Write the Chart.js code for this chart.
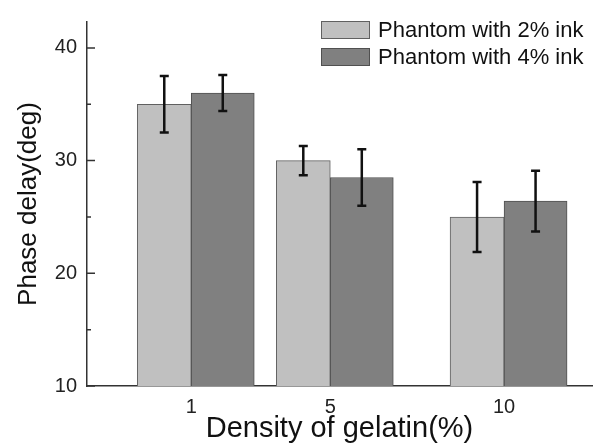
<!DOCTYPE html>
<html>
<head>
<meta charset="utf-8">
<script src="https://cdn.jsdelivr.net/npm/chart.js@4"></script>
<style>
  html, body { margin: 0; padding: 0; background: #fff; }
  #wrap { width: 597px; height: 444px; position: relative; }
</style>
</head>
<body>
<div id="wrap"><canvas id="chart"></canvas></div>
<script>
// 젤라틴 농도별 위상 지연
var densities = [1, 5, 10];
var ink2 = [35, 30, 25];
var ink2Err = [2.5, 1.3, 3.1];
var ink4 = [36, 28.5, 26.4];
var ink4Err = [1.6, 2.5, 2.7];
var seriesLabels = ['Phantom with 2% ink', 'Phantom with 4% ink'];
var yTicks = [10, 20, 30, 40];
var yMinorTicks = [15, 25, 35];

var FONT = 'Liberation Sans, Arial, Helvetica, sans-serif';

function toPoints(values) {
  return densities.map(function(d, i) { return { x: d, y: values[i] }; });
}

// 오차 막대
var errorBars = {
  id: 'errorBars',
  afterDatasetsDraw: function(chart) {
    var ctx = chart.ctx, y = chart.scales.y;
    ctx.save();
    ctx.strokeStyle = '#111';
    ctx.lineWidth = 2.5;
    chart.data.datasets.forEach(function(ds, di) {
      var meta = chart.getDatasetMeta(di);
      meta.data.forEach(function(bar, i) {
        var v = ds.data[i].y, e = ds.errors[i];
        var top = y.getPixelForValue(v + e), bot = y.getPixelForValue(v - e);
        ctx.beginPath();
        ctx.moveTo(bar.x, top); ctx.lineTo(bar.x, bot);
        ctx.moveTo(bar.x - 4.5, top); ctx.lineTo(bar.x + 4.5, top);
        ctx.moveTo(bar.x - 4.5, bot); ctx.lineTo(bar.x + 4.5, bot);
        ctx.stroke();
      });
    });
    ctx.restore();
  }
};

// 안쪽으로 향한 y축 눈금
var innerTicks = {
  id: 'innerTicks',
  afterDraw: function(chart) {
    var ctx = chart.ctx, y = chart.scales.y, left = chart.chartArea.left;
    ctx.save();
    ctx.strokeStyle = '#333';
    ctx.lineWidth = 1.5;
    ctx.beginPath();
    yTicks.forEach(function(t) {
      var p = y.getPixelForValue(t);
      ctx.moveTo(left, p); ctx.lineTo(left + 8, p);
    });
    yMinorTicks.forEach(function(t) {
      var p = y.getPixelForValue(t);
      ctx.moveTo(left, p); ctx.lineTo(left + 4, p);
    });
    ctx.stroke();
    ctx.restore();
  }
};

// 범례 (오른쪽 위)
var boxLegend = {
  id: 'boxLegend',
  afterDraw: function(chart) {
    var ctx = chart.ctx;
    ctx.save();
    ctx.font = '22px ' + FONT;
    ctx.textBaseline = 'middle';
    chart.data.datasets.forEach(function(ds, i) {
      var top = 21 + i * 27;
      ctx.fillStyle = ds.backgroundColor;
      ctx.fillRect(321, top, 49, 18);
      ctx.strokeStyle = ds.borderColor;
      ctx.lineWidth = 1;
      ctx.strokeRect(321.5, top + 0.5, 48, 17);
      ctx.fillStyle = '#111';
      ctx.fillText(ds.label, 378, top + 10);
    });
    ctx.restore();
  }
};

new Chart(document.getElementById('chart'), {
  type: 'bar',
  data: {
    datasets: [{
      label: seriesLabels[0],
      data: toPoints(ink2),
      errors: ink2Err,
      backgroundColor: '#c0c0c0',
      borderColor: '#606060',
      borderWidth: 1,
      barThickness: 54
    }, {
      label: seriesLabels[1],
      data: toPoints(ink4),
      errors: ink4Err,
      backgroundColor: '#808080',
      borderColor: '#505050',
      borderWidth: 1,
      barThickness: 63
    }]
  },
  options: {
    responsive: true,
    maintainAspectRatio: false,
    animation: false,
    layout: { padding: { left: 0, right: 5, top: 12, bottom: 0 } },
    plugins: { legend: { display: false }, tooltip: { enabled: false } },
    scales: {
      x: {
        type: 'linear',
        min: -2,
        max: 12.53,
        offset: false,
        grid: { display: false, drawTicks: false, offset: false },
        border: { color: '#333', width: 1.5 },
        afterBuildTicks: function(scale) {
          scale.ticks = densities.map(function(d) { return { value: d }; });
        },
        afterFit: function(scale) { scale.height = 58; },
        ticks: {
          padding: 9,
          color: '#222',
          font: { family: FONT, size: 20 },
          callback: function(v) { return String(v); }
        },
        title: {
          display: true,
          text: 'Density of gelatin(%)',
          color: '#111',
          padding: 0,
          font: { family: FONT, size: 29, lineHeight: 1.05 }
        }
      },
      y: {
        min: 10,
        max: 42.3,
        grid: { display: false, drawTicks: false },
        border: { color: '#333', width: 1.5 },
        afterBuildTicks: function(scale) {
          scale.ticks = yTicks.map(function(t) { return { value: t }; });
        },
        afterFit: function(scale) { scale.width = 87; },
        ticks: {
          padding: 10,
          color: '#222',
          font: { family: FONT, size: 20 }
        },
        title: {
          display: true,
          text: 'Phase delay(deg)',
          color: '#111',
          padding: { top: 13, bottom: 0 },
          font: { family: FONT, size: 26 }
        }
      }
    }
  },
  plugins: [errorBars, innerTicks, boxLegend]
});
</script>
</body>
</html>
